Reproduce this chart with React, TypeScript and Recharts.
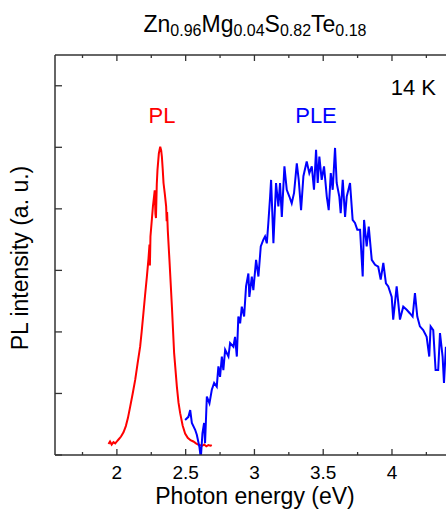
import React from 'react';
import { LineChart, Line, XAxis, YAxis } from 'recharts';

// PL spectrum (red)
const plEnergy = [
  1.939, 1.95, 1.962, 1.975, 1.988, 2.0, 2.015, 2.03, 2.048, 2.065, 2.08, 2.097, 2.115, 2.133,
  2.15, 2.169, 2.18, 2.193, 2.205, 2.218, 2.23, 2.237, 2.24, 2.244, 2.255, 2.262, 2.27, 2.275,
  2.28, 2.284, 2.29, 2.295, 2.305, 2.315, 2.322, 2.327, 2.333, 2.339, 2.348, 2.358, 2.362, 2.365,
  2.37, 2.382, 2.392, 2.4, 2.416, 2.436, 2.448, 2.46, 2.478, 2.496, 2.515, 2.535, 2.556, 2.575,
  2.59, 2.605, 2.62, 2.635, 2.65, 2.665, 2.68, 2.69,
];
const plIntensity = [
  0.18, 0.22, 0.17, 0.21, 0.19, 0.22, 0.26, 0.3, 0.37, 0.47, 0.6, 0.79, 1.0, 1.22,
  1.48, 1.76, 2.0, 2.31, 2.6, 2.9, 3.2, 3.42, 3.08, 3.55, 3.85, 4.04, 4.2, 4.3,
  3.92, 3.85, 4.4, 4.63, 4.9, 5.01, 4.95, 4.85, 4.65, 4.42, 4.25, 4.04, 3.8, 3.95,
  3.65, 3.17, 2.75, 2.41, 1.66, 1.11, 0.85, 0.68, 0.48, 0.35, 0.28, 0.24, 0.22, 0.19,
  0.17, 0.16, 0.15, 0.17, 0.14, 0.16, 0.15, 0.16,
];

// PLE spectrum (blue)
const pleEnergy = [
  2.496, 2.52, 2.533, 2.545, 2.569, 2.581, 2.6, 2.61, 2.622, 2.634, 2.641, 2.654, 2.673, 2.69,
  2.707, 2.726, 2.738, 2.75, 2.763, 2.774, 2.787, 2.811, 2.823, 2.847, 2.859, 2.872, 2.883, 2.896,
  2.908, 2.925, 2.939, 2.956, 2.963, 2.981, 2.992, 3.012, 3.029, 3.046, 3.065, 3.077, 3.09, 3.101,
  3.114, 3.121, 3.13, 3.138, 3.157, 3.174, 3.186, 3.199, 3.218, 3.235, 3.254, 3.271, 3.288, 3.308,
  3.322, 3.339, 3.356, 3.38, 3.399, 3.417, 3.433, 3.448, 3.46, 3.472, 3.489, 3.506, 3.526, 3.54,
  3.555, 3.569, 3.586, 3.598, 3.617, 3.627, 3.642, 3.659, 3.671, 3.695, 3.714, 3.731, 3.748, 3.768,
  3.787, 3.797, 3.816, 3.831, 3.853, 3.877, 3.9, 3.918, 3.937, 3.956, 3.973, 3.998, 4.009, 4.034,
  4.058, 4.082, 4.107, 4.131, 4.15, 4.167, 4.184, 4.203, 4.227, 4.252, 4.271, 4.281, 4.3, 4.317,
  4.336, 4.349, 4.368, 4.378, 4.392,
];
const pleIntensity = [
  0.57, 0.62, 0.73, 0.52, 0.41, 0.33, 0.13, -0.05, 0.35, 0.52, 0.19, 0.95, 0.84, 1.06,
  1.17, 1.11, 1.44, 1.27, 1.6, 1.38, 1.71, 1.6, 1.82, 1.76, 1.92, 1.6, 2.25, 2.14,
  2.41, 2.25, 2.74, 2.95, 2.57, 2.9, 2.68, 3.17, 2.9, 3.39, 3.5, 3.55, 3.44, 3.77,
  4.2, 4.47, 3.93, 3.44, 4.42, 4.04, 4.42, 3.87, 4.69, 4.31, 4.2, 4.09, 4.26, 4.74,
  4.47, 3.98, 4.53, 4.77, 4.58, 4.69, 4.31, 4.96, 4.42, 4.85, 4.47, 4.69, 4.2, 3.98,
  4.58, 4.31, 4.99, 4.42, 4.2, 3.93, 4.47, 3.87, 4.2, 4.42, 3.82, 3.77, 3.66, 3.66,
  2.9, 3.82, 3.39, 3.71, 3.17, 3.09, 3.06, 2.85, 3.12, 2.79, 2.74, 2.57, 2.2, 2.74,
  2.2, 2.41, 2.36, 2.3, 2.25, 2.63, 2.25, 2.09, 2.03, 1.92, 1.6, 2.09, 2.03, 1.38,
  1.38, 1.98, 1.6, 1.17, 1.76,
];

const xTicks = [1.75, 2, 2.25, 2.5, 2.75, 3, 3.25, 3.5, 3.75, 4, 4.25];
const yTicks = [0, 1, 2, 3, 4, 5, 6];

const plData = plEnergy.map((e, i) => ({ e, i: plIntensity[i] }));
const pleData = pleEnergy.map((e, i) => ({ e, i: pleIntensity[i] }));

const FONT = '"Liberation Sans", Arial, sans-serif';
const AXIS = '#333';

const isMajor = (v: number) => Math.abs(v * 2 - Math.round(v * 2)) < 1e-6;

const BottomTick = (props: any) => {
  const { x, y, payload } = props;
  const major = isMajor(payload.value);
  return (
    <g>
      <line x1={x} x2={x} y1={y} y2={y - (major ? 6 : 3)} stroke={AXIS} strokeWidth={1.3} />
      {major && (
        <text x={x} y={y + 24} textAnchor="middle" fontSize={19} fontFamily={FONT} fill="#000">
          {payload.value}
        </text>
      )}
    </g>
  );
};

const TopTick = (props: any) => {
  const { x, y, payload } = props;
  const major = isMajor(payload.value);
  return <line x1={x} x2={x} y1={y} y2={y + (major ? 6 : 3)} stroke={AXIS} strokeWidth={1.3} />;
};

const LeftTick = (props: any) => {
  const { x, y } = props;
  return <line x1={x} x2={x + 7} y1={y} y2={y} stroke={AXIS} strokeWidth={1.3} />;
};

export default function App() {
  return (
    <div style={{ position: 'absolute', left: 0, top: 0, width: 446, height: 512, overflow: 'hidden', background: '#fff' }}>
      <LineChart
        width={450}
        height={512}
        margin={{ top: 35, right: 3, bottom: 27, left: 35 }}
      >
        <XAxis
          type="number"
          dataKey="e"
          domain={[1.55, 4.4]}
          allowDataOverflow
          ticks={xTicks}
          height={30}
          tickSize={0}
          tickMargin={0}
          tickLine={false}
          axisLine={{ stroke: AXIS, strokeWidth: 1.5 }}
          tick={<BottomTick />}
          interval={0}
        />
        <XAxis
          xAxisId="top"
          orientation="top"
          type="number"
          dataKey="e"
          domain={[1.55, 4.4]}
          allowDataOverflow
          ticks={xTicks}
          height={20}
          tickSize={0}
          tickMargin={0}
          tickLine={false}
          axisLine={{ stroke: AXIS, strokeWidth: 1.5 }}
          tick={<TopTick />}
          interval={0}
        />
        <YAxis
          type="number"
          domain={[0, 6.5]}
          allowDataOverflow
          ticks={yTicks}
          width={20}
          tickSize={0}
          tickMargin={0}
          tickLine={false}
          axisLine={{ stroke: AXIS, strokeWidth: 1.5 }}
          tick={<LeftTick />}
          interval={0}
        />
        <Line
          data={plData}
          dataKey="i"
          type="linear"
          stroke="#ff0000"
          strokeWidth={2}
          dot={false}
          isAnimationActive={false}
        />
        <Line
          data={pleData}
          dataKey="i"
          type="linear"
          stroke="#0000ff"
          strokeWidth={2}
          dot={false}
          isAnimationActive={false}
        />
      </LineChart>
      <svg
        width={446}
        height={512}
        style={{ position: 'absolute', left: 0, top: 0, pointerEvents: 'none' }}
        fontFamily={FONT}
      >
        <text x={255} y={32} textAnchor="middle" fontSize={23} fill="#000">
          Zn<tspan fontSize={16} dy={4}>0.96</tspan>
          <tspan dy={-4}>Mg</tspan><tspan fontSize={16} dy={4}>0.04</tspan>
          <tspan dy={-4}>S</tspan><tspan fontSize={16} dy={4}>0.82</tspan>
          <tspan dy={-4}>Te</tspan><tspan fontSize={16} dy={4}>0.18</tspan>
        </text>
        <text x={436} y={95} textAnchor="end" fontSize={22} fill="#000">14 K</text>
        <text x={162} y={123} textAnchor="middle" fontSize={22} fill="#ff0000">PL</text>
        <text x={316} y={123} textAnchor="middle" fontSize={22} fill="#0000ff">PLE</text>
        <text x={255} y={504} textAnchor="middle" fontSize={23} fill="#000">Photon energy (eV)</text>
        <text
          x={28}
          y={258}
          textAnchor="middle"
          fontSize={23}
          fill="#000"
          transform="rotate(-90 28 258)"
        >
          PL intensity (a. u.)
        </text>
      </svg>
    </div>
  );
}
